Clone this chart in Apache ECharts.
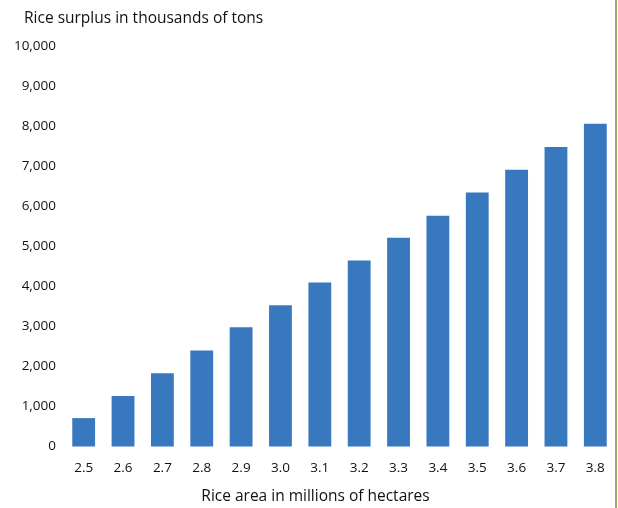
<!DOCTYPE html>
<html>
<head>
<meta charset="utf-8">
<script src="https://cdn.jsdelivr.net/npm/echarts@6/dist/echarts.min.js"></script>
<style>html,body{margin:0;padding:0;background:#fff}#c{width:618px;height:508px}</style>
</head>
<body>
<div id="c"></div>
<script>
const categories = ['2.5','2.6','2.7','2.8','2.9','3.0','3.1','3.2','3.3','3.4','3.5','3.6','3.7','3.8'];
const surplus = [710, 1260, 1830, 2400, 2980, 3530, 4100, 4650, 5220, 5770, 6350, 6920, 7490, 8070];
const yTitle = 'Rice surplus in thousands of tons';
const xTitle = 'Rice area in millions of hectares';

const font = '"Open Sans", sans-serif';
const chart = echarts.init(document.getElementById('c'), null, {renderer: 'canvas'});
chart.setOption({
  animation: false,
  title: {
    text: yTitle, left: 19, top: 6,
    textStyle: {fontFamily: font, fontSize: 15.5, fontWeight: 'normal', color: '#111'}
  },
  graphic: [{
    type: 'rect', shape: {x: 615, y: 0, width: 2, height: 508},
    style: {fill: '#9bab5e'}
  }],
  grid: {left: 64, right: 3, top: 46.5, bottom: 61.5, containLabel: false, outerBoundsMode: 'none'},
  xAxis: {
    type: 'category', data: categories,
    name: xTitle, nameLocation: 'middle', nameGap: 42,
    nameTextStyle: {fontFamily: font, fontSize: 15.5, color: '#111', padding: [0, 48, 0, 0]},
    axisLine: {show: false}, axisTick: {show: false},
    axisLabel: {fontFamily: font, fontSize: 13.5, color: '#111', margin: 15}
  },
  yAxis: {
    type: 'value', min: 0, max: 10000, interval: 1000,
    splitLine: {show: false}, axisLine: {show: false}, axisTick: {show: false},
    axisLabel: {
      fontFamily: font, fontSize: 13.5, color: '#111', margin: 8,
      formatter: v => v.toLocaleString('en-US')
    }
  },
  series: [{
    type: 'bar', data: surplus, barWidth: '58%',
    itemStyle: {color: '#3878be'}
  }]
});
</script>
</body>
</html>
